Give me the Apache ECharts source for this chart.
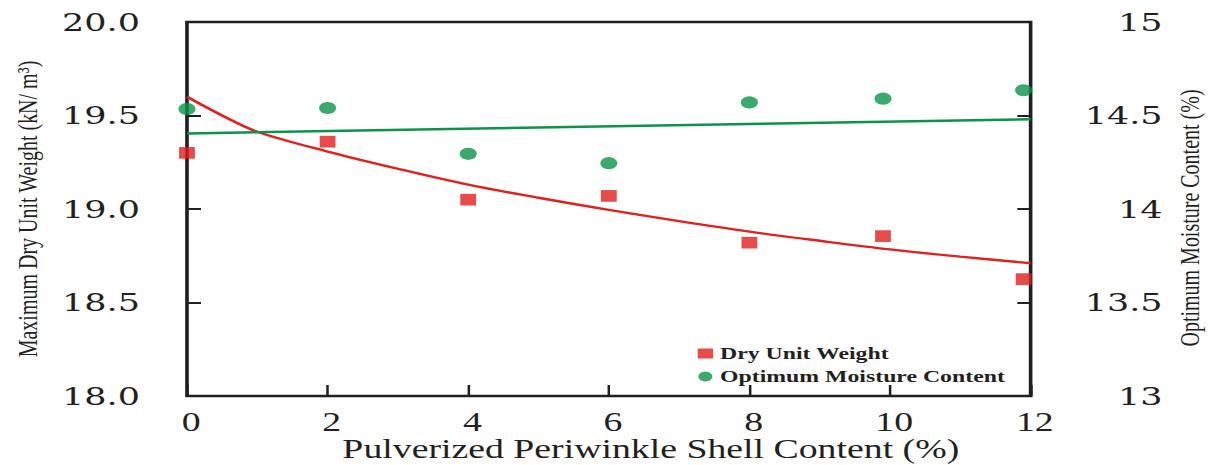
<!DOCTYPE html>
<html>
<head>
<meta charset="utf-8">
<script src="https://cdn.jsdelivr.net/npm/echarts@6/dist/echarts.min.js"></script>
<style>
html,body{margin:0;padding:0;background:#fff;overflow:hidden;width:1212px;height:465px;}
#c{width:866px;height:465px;transform:scaleX(1.39954);transform-origin:0 0;}
</style>
</head>
<body>
<div id="c"></div>
<script>
// Pulverized periwinkle shell content (%)
const shellPct = [0, 2, 4, 6, 8, 9.9, 11.9];
// Maximum dry unit weight (kN/m3), left axis
const dryUnitWeight = [19.30, 19.36, 19.05, 19.07, 18.82, 18.855, 18.625];
// Optimum moisture content (%), right axis
const moistureContent = [14.535, 14.54, 14.295, 14.245, 14.57, 14.59, 14.635];
// Dry unit weight trend curve
const dryTrendX = [0, 0.5, 1, 2, 3, 4, 5, 6, 7, 8, 9, 10, 11, 12];
const dryTrendY = [19.60, 19.50, 19.413, 19.307, 19.215, 19.13, 19.06, 18.995, 18.935, 18.879, 18.83, 18.784, 18.745, 18.71];
// Moisture content trend line
const omcTrendX = [0, 12];
const omcTrendY = [14.404, 14.48];

const xTitle = 'Pulverized Periwinkle Shell Content (%)';
const yLeftTitle = 'Maximum Dry Unit Weight (kN/ m³)';
const yRightTitle = 'Optimum Moisture Content (%)';
const legendNames = ['Dry Unit Weight', 'Optimum Moisture Content'];

const RED = '#e0211d';
const GREEN = '#0a9447';
const INK = '#231f20';

const zip = (a, b) => a.map((v, i) => [v, b[i]]);

const chart = echarts.init(document.getElementById('c'), null, {renderer: 'svg'});
chart.setOption({
  backgroundColor: '#fff',
  animation: false,
  grid: {
    left: 133.6, right: 129.6, top: 22, bottom: 69,
    outerBoundsMode: 'none', containLabel: false,
    show: true, borderColor: INK, borderWidth: 2.6, backgroundColor: 'transparent'
  },
  legend: {
    data: [
      {name: legendNames[0], icon: 'rect'},
      {name: legendNames[1], icon: 'circle'}
    ],
    orient: 'vertical',
    left: 498.5, top: 345, padding: 0,
    itemWidth: 11, itemHeight: 10, itemGap: 6,
    textStyle: {fontFamily: 'Liberation Serif', fontWeight: 'bold', fontSize: 17, color: INK}
  },
  xAxis: {
    type: 'value', min: 0, max: 12, interval: 2,
    axisLine: {show: false},
    axisTick: {show: true, inside: true, length: 11, lineStyle: {color: INK, width: 1.8}},
    splitLine: {show: false},
    axisLabel: {
      margin: 12, fontFamily: 'Liberation Serif', fontSize: 27, color: INK,
      padding: [0, 0, 0, 6]
    },
    name: xTitle, nameLocation: 'middle', nameGap: 41, nameMoveOverlap: false,
    nameTextStyle: {fontFamily: 'Liberation Serif', fontSize: 27, lineHeight: 24, color: INK, padding: [0, 0, 0, 60]}
  },
  yAxis: [
    {
      type: 'value', min: 18, max: 20, interval: 0.5, position: 'left',
      axisLine: {show: false},
      axisTick: {show: true, inside: true, length: 10, lineStyle: {color: INK, width: 2}},
      splitLine: {show: false},
      axisLabel: {
        margin: 33.6, fontFamily: 'DejaVu Serif', fontSize: 25, color: INK,
        formatter: v => v.toFixed(1)
      },
      name: yLeftTitle, nameLocation: 'middle', nameGap: 104, nameMoveOverlap: false,
      nameTextStyle: {fontFamily: 'Liberation Serif', fontSize: 20, color: INK}
    },
    {
      type: 'value', min: 13, max: 15, interval: 0.5, position: 'right',
      axisLine: {show: false},
      axisTick: {show: true, inside: true, length: 9.5, lineStyle: {color: INK, width: 2}},
      splitLine: {show: false},
      axisLabel: {
        margin: 94.3, align: 'right', fontFamily: 'DejaVu Serif', fontSize: 25, color: INK
      },
      name: yRightTitle, nameLocation: 'middle', nameGap: 103, nameMoveOverlap: false,
      nameTextStyle: {fontFamily: 'Liberation Serif', fontSize: 20, color: INK, padding: [0, 18, 0, 0]}
    }
  ],
  series: [
    {
      name: 'dryTrend', type: 'line', yAxisIndex: 0,
      data: zip(dryTrendX, dryTrendY), smooth: 0.35, showSymbol: false,
      lineStyle: {color: RED, width: 2.4}, z: 2, silent: true
    },
    {
      name: 'omcTrend', type: 'line', yAxisIndex: 1,
      data: zip(omcTrendX, omcTrendY), showSymbol: false,
      lineStyle: {color: GREEN, width: 2.4}, z: 2, silent: true
    },
    {
      name: legendNames[0], type: 'scatter', yAxisIndex: 0,
      data: zip(shellPct, dryUnitWeight), symbol: 'rect', symbolSize: [11.3, 11.7],
      itemStyle: {color: RED}, z: 3
    },
    {
      name: legendNames[1], type: 'scatter', yAxisIndex: 1,
      data: zip(shellPct, moistureContent), symbol: 'circle', symbolSize: 12.2,
      itemStyle: {color: GREEN}, z: 3
    }
  ]
});
</script>
</body>
</html>
